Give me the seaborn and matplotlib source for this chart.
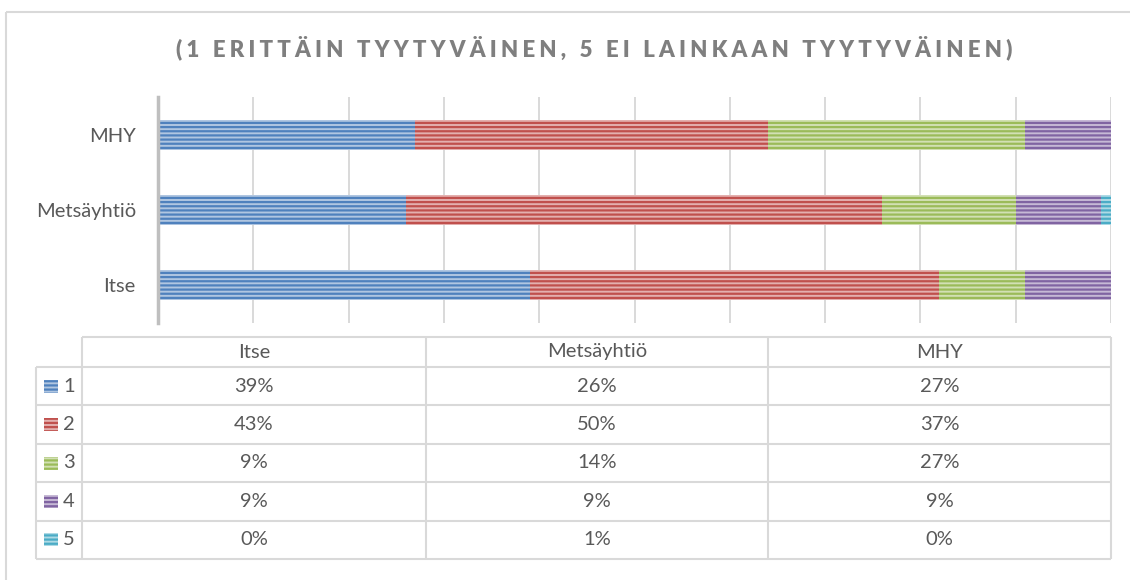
import numpy as np
import pandas as pd
import matplotlib
matplotlib.use("Agg")
import matplotlib.pyplot as plt
import seaborn as sns
from matplotlib.patches import Rectangle
from matplotlib.colors import to_rgb

# ---------------- data ----------------
categories = ["Itse", "Metsäyhtiö", "MHY"]
levels = ["1", "2", "3", "4", "5"]
v1 = [39, 26, 27]
v2 = [43, 50, 37]
v3 = [9, 14, 27]
v4 = [9, 9, 9]
v5 = [0, 1, 0]
series = [v1, v2, v3, v4, v5]
colors = ["#4F81BD", "#C0504D", "#9BBB59", "#8064A2", "#4BACC6"]
title = "(1 ERITTÄIN TYYTYVÄINEN, 5 EI LAINKAAN TYYTYVÄINEN)"
display_order = ["MHY", "Metsäyhtiö", "Itse"]

# ---------------- style ----------------
sns.set_theme(style="white")
FONT = ["Lato", "DejaVu Sans"]
plt.rcParams["font.family"] = FONT
plt.rcParams["hatch.linewidth"] = 1.6
TXT = "#595959"
GRID = "#D9D9D9"
FS = 14.5
HATCH = "----"

def light(c, f=0.5):
    r = np.array(to_rgb(c))
    return tuple(r + (1 - r) * f)

rows = []
for lv, vals in zip(levels, series):
    for cat, v in zip(categories, vals):
        rows.append(dict(cat=cat, level=lv, value=v))
df = pd.DataFrame(rows)
df["cum"] = df.groupby("cat")["value"].cumsum()

fig = plt.figure(figsize=(11.3, 5.8), dpi=100)
W, H = 1130, 580
ax = fig.add_axes([158 / W, 1 - 323 / H, (1111 - 158) / W, (323 - 97) / H])

for lv, col in reversed(list(zip(levels, colors))):
    sub = df[(df["level"] == lv) & (df["value"] > 0)]
    n0 = len(ax.patches)
    sns.barplot(data=sub, x="cum", y="cat", order=display_order, orient="h",
                color=light(col, 0.5), saturation=1, width=0.4, ax=ax,
                errorbar=None, linewidth=0)
    for p in ax.patches[n0:]:
        p.set_facecolor(light(col, 0.55))
        p.set_edgecolor(col)
        p.set_linewidth(0)
        p.set_hatch(HATCH)

ax.set_xlim(0, 100)
ax.set_ylim(2.5, -0.5)
ax.set_xticks(np.arange(0, 101, 10))
ax.grid(axis="x", color=GRID, lw=1.4)
ax.set_axisbelow(True)
ax.tick_params(axis="x", length=0, labelbottom=False)
ax.tick_params(axis="y", length=0, pad=16, labelsize=FS, labelcolor=TXT)
ax.set_xlabel("")
ax.set_ylabel("")
for s in ["top", "right", "bottom"]:
    ax.spines[s].set_visible(False)
ax.spines["left"].set_color("#BFBFBF")
ax.spines["left"].set_linewidth(2.5)

# ---------------- overlay: title, table, border ----------------
ov = fig.add_axes([0, 0, 1, 1])
ov.set_xlim(0, W)
ov.set_ylim(H, 0)
ov.axis("off")

ov.add_patch(Rectangle((6, 12), 1200, 700, fill=False, edgecolor=GRID, lw=1.5))

spaced = "\u2009\u200a".join(title)
ov.text(594, 48, spaced, ha="center", va="center", fontsize=16, fontweight="heavy",
        color="#7F7F7F", family=FONT)

# table geometry
x_leg, x_tab, x_end = 36, 82, 1111
col_edges = [82, 426, 768, 1111]
y_head_top, y_head_bot = 337, 367
row_h = 38.4
lc = dict(color=GRID, lw=1.5, solid_capstyle="butt")

ov.plot([x_tab, x_end], [y_head_top, y_head_top], **lc)
for xe in col_edges:
    ov.plot([xe, xe], [y_head_top, y_head_bot + row_h * 5], **lc)
ov.plot([x_leg, x_leg], [y_head_bot, y_head_bot + row_h * 5], **lc)
for i in range(6):
    yy = y_head_bot + i * row_h
    ov.plot([x_leg, x_end], [yy, yy], **lc)

for j, cat in enumerate(categories):
    cx = (col_edges[j] + col_edges[j + 1]) / 2
    ov.text(cx, (y_head_top + y_head_bot) / 2, cat, ha="center", va="center",
            fontsize=FS, color=TXT)

for i, (lv, vals, col) in enumerate(zip(levels, series, colors)):
    cy = y_head_bot + (i + 0.5) * row_h
    ov.add_patch(Rectangle((44, cy - 6.5), 14, 13, facecolor=light(col, 0.55),
                           edgecolor=col, lw=0, hatch=HATCH))
    ov.text(63, cy, lv, ha="left", va="center", fontsize=FS, color=TXT)
    for j, v in enumerate(vals):
        cx = (col_edges[j] + col_edges[j + 1]) / 2
        ov.text(cx, cy, f"{v}%", ha="center", va="center", fontsize=FS, color=TXT)

fig.savefig("out.png", dpi=100, facecolor="white")
